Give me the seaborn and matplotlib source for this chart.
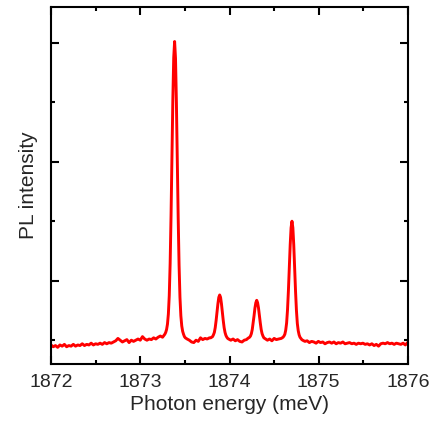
import matplotlib
matplotlib.use("Agg")
import matplotlib.pyplot as plt
from matplotlib.ticker import MultipleLocator, NullFormatter
import seaborn as sns
import pandas as pd

# Photon energy (meV) and PL intensity (arb. units)
energy_left = [1872.000, 1872.025, 1872.050, 1872.075, 1872.100, 1872.125, 1872.150, 1872.175,
               1872.200, 1872.225, 1872.250, 1872.275, 1872.300, 1872.325, 1872.350, 1872.375,
               1872.400, 1872.425, 1872.450, 1872.475, 1872.500, 1872.525, 1872.550, 1872.575,
               1872.600, 1872.625, 1872.650, 1872.675, 1872.700, 1872.725, 1872.750, 1872.775,
               1872.800, 1872.825, 1872.850, 1872.875, 1872.900, 1872.925, 1872.950, 1872.975,
               1873.000, 1873.025, 1873.050, 1873.075, 1873.100, 1873.125, 1873.150, 1873.175,
               1873.200, 1873.225, 1873.250]
intensity_left = [0.92, 0.89, 0.91, 0.88, 0.92, 0.90, 0.93, 0.89,
                  0.91, 0.90, 0.93, 0.90, 0.92, 0.91, 0.94, 0.91,
                  0.93, 0.92, 0.95, 0.92, 0.94, 0.93, 0.95, 0.93,
                  0.96, 0.94, 0.96, 0.95, 0.97, 0.99, 1.03, 1.00,
                  0.97, 0.99, 1.01, 0.96, 1.00, 0.98, 1.00, 1.02,
                  1.00, 1.06, 1.02, 1.00, 1.02, 1.01, 1.04, 1.02,
                  1.05, 1.07, 1.05]

energy_peak1 = [1873.265, 1873.275, 1873.285, 1873.295, 1873.305, 1873.315, 1873.325, 1873.335,
                1873.345, 1873.355, 1873.365, 1873.375, 1873.385, 1873.395, 1873.405, 1873.415,
                1873.425, 1873.435, 1873.445, 1873.455, 1873.465, 1873.475, 1873.485, 1873.495,
                1873.505]
intensity_peak1 = [1.08, 1.10, 1.13, 1.18, 1.27, 1.44, 1.75, 2.29,
                   3.09, 4.06, 5.03, 5.75, 6.02, 5.74, 5.00, 4.03,
                   3.06, 2.26, 1.72, 1.41, 1.24, 1.15, 1.10, 1.06,
                   1.04]

energy_gap1 = [1873.525, 1873.550, 1873.575, 1873.600, 1873.625, 1873.650, 1873.675, 1873.700,
               1873.725, 1873.750, 1873.775]
intensity_gap1 = [1.02, 1.00, 0.97, 0.96, 1.00, 0.98, 1.04, 1.01, 1.03, 1.02, 1.04]

energy_peak2 = [1873.790, 1873.800, 1873.810, 1873.820, 1873.830, 1873.840, 1873.850, 1873.860,
                1873.870, 1873.880, 1873.890, 1873.900, 1873.910, 1873.920, 1873.930, 1873.940,
                1873.950, 1873.960, 1873.970, 1873.980, 1873.990]
intensity_peak2 = [1.04, 1.05, 1.06, 1.09, 1.13, 1.21, 1.33, 1.47,
                   1.61, 1.72, 1.76, 1.72, 1.61, 1.47, 1.33, 1.21,
                   1.13, 1.08, 1.05, 1.03, 1.02]

energy_gap2 = [1874.015, 1874.040, 1874.065, 1874.090, 1874.115, 1874.140, 1874.165, 1874.190]
intensity_gap2 = [1.00, 1.02, 0.99, 1.01, 0.98, 0.97, 1.00, 1.01]

energy_peak3 = [1874.205, 1874.215, 1874.225, 1874.235, 1874.245, 1874.255, 1874.265, 1874.275,
                1874.285, 1874.295, 1874.305, 1874.315, 1874.325, 1874.335, 1874.345, 1874.355,
                1874.365, 1874.375, 1874.385, 1874.395, 1874.405]
intensity_peak3 = [1.03, 1.04, 1.05, 1.07, 1.11, 1.18, 1.29, 1.41,
                   1.54, 1.63, 1.67, 1.63, 1.54, 1.41, 1.29, 1.18,
                   1.11, 1.07, 1.04, 1.03, 1.02]

energy_gap3 = [1874.425, 1874.450, 1874.475, 1874.500, 1874.525, 1874.550]
intensity_gap3 = [1.00, 1.02, 0.99, 1.03, 1.01, 1.02]

energy_peak4 = [1874.580, 1874.590, 1874.600, 1874.610, 1874.620, 1874.630, 1874.640, 1874.650,
                1874.660, 1874.670, 1874.680, 1874.690, 1874.700, 1874.710, 1874.720, 1874.730,
                1874.740, 1874.750, 1874.760, 1874.770, 1874.780, 1874.790, 1874.800, 1874.810,
                1874.820]
intensity_peak4 = [1.03, 1.04, 1.05, 1.07, 1.10, 1.17, 1.29, 1.51,
                   1.83, 2.21, 2.60, 2.89, 3.00, 2.89, 2.60, 2.21,
                   1.82, 1.50, 1.28, 1.16, 1.09, 1.05, 1.03, 1.01,
                   1.00]

energy_right = [1874.845, 1874.870, 1874.895, 1874.920, 1874.945, 1874.970, 1874.995, 1875.020,
                1875.045, 1875.070, 1875.095, 1875.120, 1875.145, 1875.170, 1875.195, 1875.220,
                1875.245, 1875.270, 1875.295, 1875.320, 1875.345, 1875.370, 1875.395, 1875.420,
                1875.445, 1875.470, 1875.495, 1875.520, 1875.545, 1875.570, 1875.595, 1875.620,
                1875.645, 1875.670, 1875.695, 1875.720, 1875.745, 1875.770, 1875.795, 1875.820,
                1875.845, 1875.870, 1875.895, 1875.920, 1875.945, 1875.970, 1875.995]
intensity_right = [0.98, 0.99, 0.96, 0.98, 0.97, 0.95, 0.98, 0.96,
                   0.97, 0.94, 0.96, 0.97, 0.95, 0.97, 0.94, 0.96,
                   0.95, 0.97, 0.94, 0.95, 0.96, 0.94, 0.95, 0.93,
                   0.95, 0.94, 0.95, 0.93, 0.94, 0.92, 0.94, 0.91,
                   0.93, 0.90, 0.94, 0.95, 0.94, 0.96, 0.94, 0.95,
                   0.93, 0.95, 0.94, 0.93, 0.95, 0.92, 0.96]

x_tick_labels = ["1872", "1873", "1874", "1875", "1876"]
x_label = "Photon energy (meV)"
y_label = "PL intensity"

energy = (energy_left + energy_peak1 + energy_gap1 + energy_peak2 + energy_gap2
          + energy_peak3 + energy_gap3 + energy_peak4 + energy_right)
intensity = (intensity_left + intensity_peak1 + intensity_gap1 + intensity_peak2 + intensity_gap2
             + intensity_peak3 + intensity_gap3 + intensity_peak4 + intensity_right)
df = pd.DataFrame({"energy": energy, "intensity": intensity})

sns.set_style("ticks")
plt.rcParams["font.family"] = ["Liberation Sans", "DejaVu Sans"]

fig = plt.figure(figsize=(4.39, 4.26), dpi=100)
ax = fig.add_axes([51 / 439, 1 - 364 / 426, (408 - 51) / 439, (364 - 7) / 426])

sns.lineplot(data=df, x="energy", y="intensity", ax=ax, color="#ff0000",
             linewidth=2.1, sort=False, estimator=None)

ax.set_xlim(1872, 1876)
ax.set_ylim(0.6, 6.6)
ax.set_xticks([1872, 1873, 1874, 1875, 1876])
ax.set_xticklabels(x_tick_labels)
ax.xaxis.set_minor_locator(MultipleLocator(0.5))
ax.set_yticks([2, 4, 6])
ax.set_yticks([1, 3, 5], minor=True)
ax.yaxis.set_major_formatter(NullFormatter())

for side in ["left", "right", "top", "bottom"]:
    ax.spines[side].set_visible(True)
    ax.spines[side].set_linewidth(1.5)
    ax.spines[side].set_color("black")

ax.tick_params(which="both", direction="in", top=True, right=True, width=1.5, color="black")
ax.tick_params(which="major", length=6)
ax.tick_params(which="minor", length=3)
ax.tick_params(axis="x", which="major", labelsize=14, pad=7)

ax.set_xlabel(x_label, fontsize=15, labelpad=3)
ax.set_ylabel(y_label, fontsize=15, labelpad=6)

fig.savefig("out.png", dpi=100)
